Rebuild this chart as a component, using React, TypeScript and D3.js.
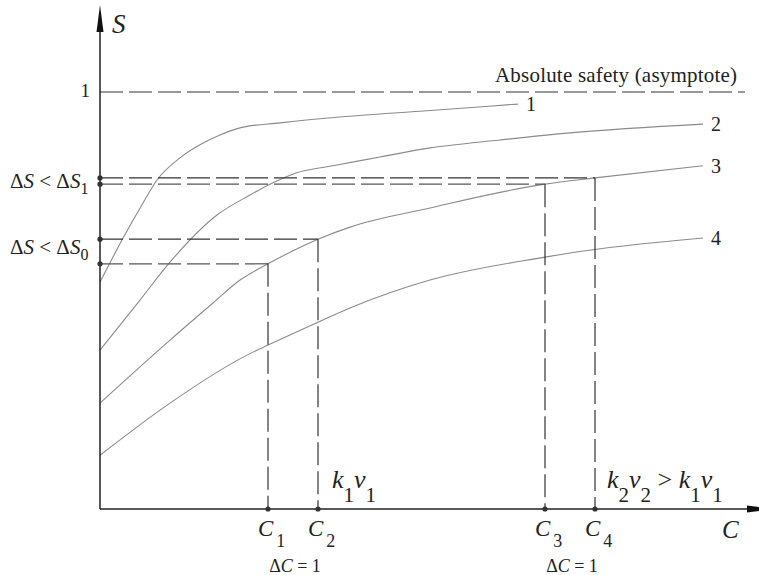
import React, { useEffect, useRef } from "react";
import * as d3 from "d3";

// curves S(C)
const curveNames = ["1", "2", "3", "4"];
const c1 = [0, 2.2, 4.3, 5.7, 8, 10.5, 12, 14, 18, 24, 32, 41.8];
const s1 = [0.544, 0.645, 0.734, 0.789, 0.842, 0.88, 0.897, 0.914, 0.926, 0.94, 0.954, 0.971];
const c2 = [0, 4, 7, 11.7, 15, 17, 19.6, 23, 28, 33, 40, 47, 60.3];
const s2 = [0.381, 0.501, 0.592, 0.705, 0.753, 0.779, 0.806, 0.822, 0.844, 0.866, 0.885, 0.902, 0.923];
const c3 = [0, 7, 11.3, 14, 16.8, 21.8, 25, 33, 44.5, 49.5, 60.3];
const s3 = [0.254, 0.405, 0.494, 0.549, 0.588, 0.647, 0.676, 0.722, 0.779, 0.794, 0.823];
const c4 = [0, 7, 14.7, 16.8, 21.8, 25, 33, 44.5, 47, 60.3];
const s4 = [0.129, 0.254, 0.369, 0.393, 0.448, 0.482, 0.549, 0.604, 0.614, 0.65];

// guide lines: C marks and the S level each one reaches
const cMarks = [16.8, 21.8, 44.5, 49.5];
const cMarkLabels = ["1", "2", "3", "4"];
const sLevels = [0.588, 0.647, 0.779, 0.794];

const asymptote = 1;
const asymptoteEnd = 64.5;

const FONT = "'Liberation Serif', 'Times New Roman', 'DejaVu Serif', serif";

function App() {
  const ref = useRef(null);

  useEffect(() => {
    const w = 759, h = 575;
    d3.select(ref.current).selectAll("*").remove();
    const svg = d3.select(ref.current)
      .append("svg")
      .attr("width", w)
      .attr("height", h)
      .attr("font-family", FONT)
      .style("display", "block");

    const x = d3.scaleLinear().domain([0, 66]).range([100, 760]);
    const y = d3.scaleLinear().domain([0, 1]).range([509, 92]);

    const line = d3.line<[number, number]>()
      .x(d => x(d[0]))
      .y(d => y(d[1]))
      .curve(d3.curveMonotoneX);

    const series = [
      [c1, s1],
      [c2, s2],
      [c3, s3],
      [c4, s4],
    ];

    // curves
    series.forEach(([cs, ss], i) => {
      const pts = cs.map((c, j) => [c, ss[j]] as [number, number]);
      svg.append("path")
        .attr("d", line(pts))
        .attr("fill", "none")
        .attr("stroke", "#8a8a8a")
        .attr("stroke-width", 1.1);
      const last = pts[pts.length - 1];
      svg.append("text")
        .attr("x", x(last[0]) + 8)
        .attr("y", y(last[1]) + 7)
        .attr("font-size", 20)
        .attr("fill", "#222")
        .text(curveNames[i]);
    });

    // asymptote
    svg.append("line")
      .attr("x1", x(0)).attr("x2", x(asymptoteEnd))
      .attr("y1", y(asymptote)).attr("y2", y(asymptote))
      .attr("stroke", "#333").attr("stroke-width", 1.2)
      .attr("stroke-dasharray", "23,6");
    svg.append("text")
      .attr("x", 737).attr("y", y(asymptote) - 10)
      .attr("text-anchor", "end")
      .attr("font-size", 21)
      .attr("textLength", 242)
      .attr("fill", "#222")
      .text("Absolute safety (asymptote)");
    svg.append("text")
      .attr("x", 90).attr("y", y(asymptote) + 5)
      .attr("text-anchor", "end")
      .attr("font-size", 19)
      .attr("fill", "#222")
      .text("1");

    // guides
    cMarks.forEach((c, i) => {
      const col = i % 2 === 0 ? "#555" : "#333";
      svg.append("line")
        .attr("x1", x(0)).attr("x2", x(c))
        .attr("y1", y(sLevels[i])).attr("y2", y(sLevels[i]))
        .attr("stroke", col).attr("stroke-width", 1.2)
        .attr("stroke-dasharray", "23,6");
      svg.append("line")
        .attr("x1", x(c)).attr("x2", x(c))
        .attr("y1", y(sLevels[i])).attr("y2", y(0))
        .attr("stroke", "#333").attr("stroke-width", 1.2)
        .attr("stroke-dasharray", "23,6");
    });

    // axes
    svg.append("line")
      .attr("x1", x(0)).attr("x2", x(0))
      .attr("y1", y(0)).attr("y2", 20)
      .attr("stroke", "#222").attr("stroke-width", 1.5);
    svg.append("path")
      .attr("d", `M${x(0)},5 L${x(0) - 3.5},32 L${x(0) + 3.5},32 Z`)
      .attr("fill", "#111");
    svg.append("line")
      .attr("x1", x(0)).attr("x2", 750)
      .attr("y1", y(0)).attr("y2", y(0))
      .attr("stroke", "#222").attr("stroke-width", 1.5);
    svg.append("path")
      .attr("d", `M774,${y(0)} L747,${y(0) - 3.5} L747,${y(0) + 3.5} Z`)
      .attr("fill", "#111");

    // dots
    sLevels.forEach(s => {
      svg.append("circle").attr("cx", x(0)).attr("cy", y(s)).attr("r", 2.6).attr("fill", "#333");
    });
    cMarks.forEach(c => {
      svg.append("circle").attr("cx", x(c)).attr("cy", y(0)).attr("r", 2.6).attr("fill", "#333");
    });

    // axis labels
    svg.append("text")
      .attr("x", 112).attr("y", 33)
      .attr("font-size", 27).attr("font-style", "italic").attr("fill", "#222")
      .text("S");
    svg.append("text")
      .attr("x", 722).attr("y", 538)
      .attr("font-size", 25).attr("font-style", "italic").attr("fill", "#222")
      .text("C");

    // C_i labels
    cMarks.forEach((c, i) => {
      const t = svg.append("text")
        .attr("x", x(c) - 10).attr("y", 536)
        .attr("font-size", 23).attr("fill", "#222");
      t.append("tspan").attr("font-style", "italic").text("C");
      t.append("tspan").attr("dy", 11).attr("dx", 3).attr("font-size", 18).text(cMarkLabels[i]);
    });

    // ΔC = 1
    [[0, 1], [2, 3]].forEach(([a, b]) => {
      const t = svg.append("text")
        .attr("x", (x(cMarks[a]) + x(cMarks[b])) / 2 + 2)
        .attr("y", 572)
        .attr("text-anchor", "middle")
        .attr("font-size", 18).attr("fill", "#222");
      t.append("tspan").text("Δ");
      t.append("tspan").attr("font-style", "italic").text("C");
      t.append("tspan").text(" = 1");
    });

    // ΔS labels
    const dsLabel = (yy: number, sub: string) => {
      const t = svg.append("text")
        .attr("x", 10).attr("y", yy)
        .attr("font-size", 21).attr("fill", "#222");
      t.append("tspan").text("Δ");
      t.append("tspan").attr("font-style", "italic").text("S");
      t.append("tspan").text(" < Δ");
      t.append("tspan").attr("font-style", "italic").text("S");
      t.append("tspan").attr("dy", 6).attr("font-size", 16).text(sub);
    };
    dsLabel(188, "1");
    dsLabel(254, "0");

    // k v labels
    const kv = (x0: number, parts: [string, string][], extra?: string) => {
      const t = svg.append("text")
        .attr("x", x0).attr("y", 488)
        .attr("font-size", 26).attr("fill", "#222");
      parts.forEach(([base, sub], i) => {
        if (i === 2 && extra) {
          t.append("tspan").attr("dy", -14).text(extra);
          t.append("tspan").attr("font-style", "italic").text(base);
        } else {
          t.append("tspan").attr("font-style", "italic").attr("dy", i === 0 ? 0 : -14).text(base);
        }
        t.append("tspan").attr("dy", 14).attr("font-size", 21).text(sub);
      });
    };
    kv(332, [["k", "1"], ["v", "1"]]);
    kv(607, [["k", "2"], ["v", "2"], ["k", "1"], ["v", "1"]], " > ");
  }, []);

  return (
    <div style={{ position: "absolute", left: 0, top: 0 }}>
      <div ref={ref}></div>
    </div>
  );
}

export default App;
